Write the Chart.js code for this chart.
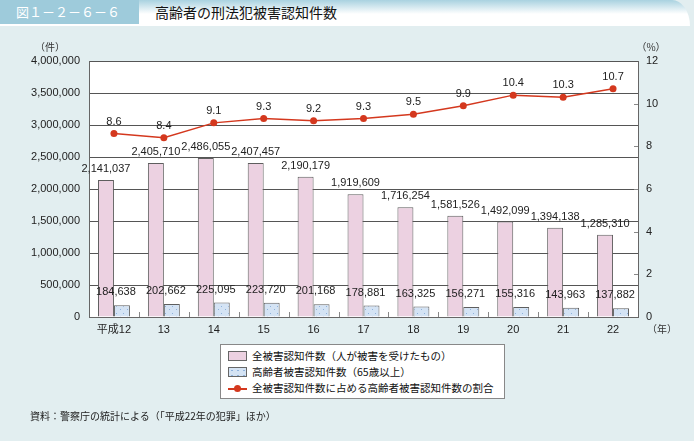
<!DOCTYPE html>
<html>
<head>
<meta charset="utf-8">
<script src="https://cdn.jsdelivr.net/npm/chart.js@4"></script>
<style>
  body { margin: 0; width: 694px; height: 441px; background: #e2eef0; position: relative; overflow: hidden;
         font-family: "Noto Sans CJK JP", sans-serif; }
  #head { position: absolute; left: 0; top: 0; width: 690px; height: 26px;
          background: linear-gradient(#a9d2e0 0px, #ffffff 14px); border-top-right-radius: 18px 26px; }
  #tag { position: absolute; left: 0; top: 0; width: 139px; height: 24px; background: #9ecbdb; color: #fff;
         font-size: 13px; line-height: 24px; text-indent: 16px; }
  #title { position: absolute; left: 155px; top: 0; line-height: 24px; font-size: 14px; color: #111; }
  #chart { position: absolute; left: 0; top: 0; }
  #legend { position: absolute; left: 220px; top: 344px; width: 285px; height: 55px; background: #fff;
            border: 1px solid #888; box-sizing: border-box; padding: 3px 0 0 7px; font-size: 10.5px; color: #111; }
  #legend div { height: 16px; line-height: 16px; white-space: nowrap; }
  #legend span.sw { display: inline-block; width: 17px; height: 8px; border: 1px solid #666; vertical-align: -1px; margin-right: 5px; }
  #legend span.ln { display: inline-block; width: 19px; height: 10px; vertical-align: -1px; margin-right: 5px; position: relative; }
  #note { position: absolute; left: 30px; top: 408px; font-size: 10px; color: #222; }
</style>
</head>
<body>
<div id="head"><div id="tag">図１－２－６－６</div><div id="title">高齢者の刑法犯被害認知件数</div></div>
<canvas id="chart" width="694" height="441"></canvas>
<div id="legend"></div>
<div id="note">資料：警察庁の統計による（「平成22年の犯罪」ほか）</div>
<script>
const years = ['平成12', '13', '14', '15', '16', '17', '18', '19', '20', '21', '22'];
const totalCases = [2141037, 2405710, 2486055, 2407457, 2190179, 1919609, 1716254, 1581526, 1492099, 1394138, 1285310];
const elderlyCases = [184638, 202662, 225095, 223720, 201168, 178881, 163325, 156271, 155316, 143963, 137882];
const elderlyShare = [8.6, 8.4, 9.1, 9.3, 9.2, 9.3, 9.5, 9.9, 10.4, 10.3, 10.7];
const seriesNames = ['全被害認知件数（人が被害を受けたもの）', '高齢者被害認知件数（65歳以上）', '全被害認知件数に占める高齢者被害認知件数の割合'];

const pink = '#ecd1e1';
const blue = '#d4e3f4';
const red = '#d4381e';

// dotted fill for the elderly bars
function dotPattern() {
    const c = document.createElement('canvas');
    c.width = 7; c.height = 7;
    const g = c.getContext('2d');
    g.fillStyle = blue;
    g.fillRect(0, 0, 7, 7);
    g.fillStyle = '#8fb2dc';
    g.fillRect(1, 1, 1, 1);
    g.fillRect(4, 5, 1, 1);
    return g.createPattern(c, 'repeat');
}
const dots = dotPattern();

const fmt = v => v.toLocaleString('en-US');
const numFont = '11px "Liberation Sans", Arial, sans-serif';

const extras = {
    id: 'extras',
    beforeDraw(chart) {
        const a = chart.chartArea, ctx = chart.ctx;
        ctx.save();
        ctx.fillStyle = '#fff';
        ctx.fillRect(a.left, a.top, a.right - a.left, a.bottom - a.top);
        ctx.restore();
    },
    afterDatasetsDraw(chart) {
        const ctx = chart.ctx, a = chart.chartArea;
        const x = chart.scales.x, yr = chart.scales.y1;
        ctx.save();
        // small marks between categories
        ctx.strokeStyle = '#888';
        ctx.lineWidth = 1;
        for (let i = 0; i < years.length - 1; i++) {
            const px = Math.round((x.getPixelForValue(i) + x.getPixelForValue(i + 1)) / 2) + 0.5;
            ctx.beginPath(); ctx.moveTo(px, a.bottom); ctx.lineTo(px, a.bottom - 5); ctx.stroke();
        }
        // inner ticks on the right axis
        for (let v = 2; v < 12; v += 2) {
            const py = Math.round(yr.getPixelForValue(v)) + 0.5;
            ctx.beginPath(); ctx.moveTo(a.right - 4, py); ctx.lineTo(a.right, py); ctx.stroke();
        }
        // value labels
        ctx.font = numFont;
        ctx.fillStyle = '#222';
        ctx.textAlign = 'center';
        ctx.textBaseline = 'middle';
        const m0 = chart.getDatasetMeta(0), m1 = chart.getDatasetMeta(1), m2 = chart.getDatasetMeta(2);
        m0.data.forEach((b, i) => ctx.fillText(fmt(totalCases[i]), b.x, b.y - 11));
        m1.data.forEach((b, i) => ctx.fillText(fmt(elderlyCases[i]), x.getPixelForValue(i) + 2, b.y - 13));
        m2.data.forEach((p, i) => ctx.fillText(elderlyShare[i].toFixed(1), p.x, p.y - 12));
        // unit labels
        ctx.font = '10px "Noto Sans CJK JP", sans-serif';
        ctx.fillStyle = '#333';
        ctx.fillText('（件）', 50, 47);
        ctx.fillText('（%）', 651, 47);
        ctx.fillText('（年）', 662, 329);
        ctx.restore();
    }
};

new Chart(document.getElementById('chart'), {
    data: {
        labels: years,
        datasets: [
            { type: 'bar', label: seriesNames[0], data: totalCases, backgroundColor: pink, borderColor: '#5e5e5e',
              borderWidth: 1, yAxisID: 'y', categoryPercentage: 0.64, barPercentage: 1, order: 2 },
            { type: 'bar', label: seriesNames[1], data: elderlyCases, backgroundColor: dots, borderColor: '#5e5e5e',
              borderWidth: 1, yAxisID: 'y', categoryPercentage: 0.64, barPercentage: 1, order: 2 },
            { type: 'line', label: seriesNames[2], data: elderlyShare, borderColor: red, backgroundColor: red,
              borderWidth: 1.5, pointRadius: 3.5, pointBackgroundColor: red, pointBorderWidth: 0, yAxisID: 'y1', order: 1 }
        ]
    },
    options: {
        responsive: false,
        animation: false,
        layout: { padding: { top: 61, left: 0, right: 0, bottom: 0 } },
        plugins: { legend: { display: false }, tooltip: { enabled: false } },
        scales: {
            x: {
                grid: { display: false, drawTicks: false },
                border: { color: '#666' },
                ticks: { color: '#222', font: { size: 11, family: '"Liberation Sans", "Noto Sans CJK JP", sans-serif' }, padding: 6, maxRotation: 0 },
                afterFit(s) { s.height = 124; }
            },
            y: {
                position: 'left',
                min: 0, max: 4000000,
                grid: { color: '#555', drawTicks: false },
                border: { color: '#666' },
                ticks: { stepSize: 500000, padding: 9, color: '#222', font: { size: 11, family: '"Liberation Sans", Arial, sans-serif' }, callback: v => fmt(v) },
                afterFit(s) { s.width = 89; }
            },
            y1: {
                position: 'right',
                min: 0, max: 12,
                grid: { display: false, drawTicks: false },
                border: { color: '#666' },
                ticks: { stepSize: 2, padding: 8, color: '#222', font: { size: 11, family: '"Liberation Sans", Arial, sans-serif' } },
                afterFit(s) { s.width = 56; }
            }
        }
    },
    plugins: [extras]
});

// legend box
const lg = document.getElementById('legend');
lg.innerHTML =
    '<div><span class="sw" style="background:' + pink + '"></span>' + seriesNames[0] + '</div>' +
    '<div><span class="sw" style="background:' + blue + ' radial-gradient(#8fb2dc 0.6px, transparent 0.8px) 0 0/6px 5px"></span>' + seriesNames[1] + '</div>' +
    '<div><span class="ln"><span style="position:absolute;left:0;top:5px;width:19px;height:1.5px;background:' + red + '"></span>' +
    '<span style="position:absolute;left:6px;top:2px;width:7px;height:7px;border-radius:50%;background:' + red + '"></span></span>' + seriesNames[2] + '</div>';
</script>
</body>
</html>
